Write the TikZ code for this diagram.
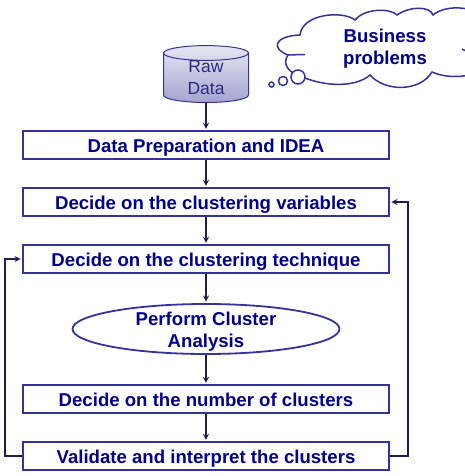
\documentclass[tikz,border=0pt]{standalone}
\usepackage{fontspec}
\setmainfont{Liberation Sans}
\usetikzlibrary{shapes.geometric}
\definecolor{boxblue}{RGB}{51,51,153}
\definecolor{textblue}{RGB}{0,0,140}
\definecolor{flowcol}{RGB}{30,30,80}
\tikzset{
  stepbox/.style={draw=boxblue, line width=1.8pt, minimum width=366pt, minimum height=27.5pt, inner sep=0pt, text height=14pt, text depth=0pt, font=\fontsize{18.6}{22}\selectfont\bfseries, text=textblue},
  flow/.style={->, >=stealth, draw=flowcol, line width=1.7pt, shorten >=1.5pt},
  bubble/.style={circle, draw=boxblue, line width=1.5pt, fill=white, inner sep=0pt}
}
\begin{document}
\begin{tikzpicture}[x=1pt, y=-1pt]
\useasboundingbox (0,0) rectangle (465,476);
\clip (0,0) rectangle (465,476);
%cloud
\draw[boxblue, line width=1.5pt, fill=white] (305,78) .. controls (290,74) and (281,65) .. (288,55)
 .. controls (270,48) and (275,36) .. (300,35)
 .. controls (302,14) and (342,10) .. (355,20)
 .. controls (365,8) and (390,8) .. (397,15)
 .. controls (410,6) and (430,6) .. (433,15)
 .. controls (445,5) and (470,6) .. (480,15)
 -- (480,72)
 .. controls (465,78) and (445,78) .. (432,72)
 .. controls (420,92) and (385,92) .. (370,75)
 .. controls (355,88) and (325,86) .. (305,78) -- cycle;
\draw[boxblue, line width=1.5pt] (287,55) -- (305,54.5) (462,49) -- (466,51);
\node[bubble, minimum size=14pt] (bubblea) at (298,77) {};
\node[bubble, minimum size=9pt] (bubbleb) at (283,81) {};
\node[bubble, minimum size=5pt] (bubblec) at (271.5,84.5) {};
\node[font=\fontsize{18.6}{22}\selectfont\bfseries, text=textblue, align=center] (problems) at (385,49) {Business\\problems};
%raw data
\node[cylinder, shape border rotate=90, aspect=.4, draw=boxblue, line width=1pt, minimum width=85pt, minimum height=51pt, inner sep=0pt, top color=boxblue!12!white, bottom color=boxblue!45!white, text=boxblue!85!black, align=center, font=\fontsize{17.5}{22}\selectfont] (rawdata) at (206,78) {Raw\\Data};
%steps
\node[stepbox] (idea) at (206,145) {Data Preparation and IDEA};
\node[stepbox] (variables) at (206,202) {Decide on the clustering variables};
\node[stepbox] (technique) at (206,259) {Decide on the clustering technique};
\node[ellipse, draw=boxblue, line width=1.8pt, minimum width=267pt, minimum height=50pt, inner sep=0pt] (perform) at (206,329) {};
\node[align=center, text=textblue, font=\fontsize{18.6}{22}\selectfont\bfseries] (performlabel) at (206,332) {Perform Cluster\\Analysis};
\node[stepbox] (number) at (206,399) {Decide on the number of clusters};
\node[stepbox] (validate) at (206,456) {Validate and interpret the clusters};
%arrows
\draw[flow] (rawdata.south) -- (idea);
\draw[flow] (idea) -- (variables);
\draw[flow] (variables) -- (technique);
\draw[flow] (technique) -- (perform);
\draw[flow] (perform) -- (number);
\draw[flow] (number) -- (validate);
\draw[flow] (validate.east) -- ++(18,0) |- (variables.east);
\draw[flow] (validate.west) -- ++(-17,0) |- (technique.west);
\end{tikzpicture}
\end{document}
